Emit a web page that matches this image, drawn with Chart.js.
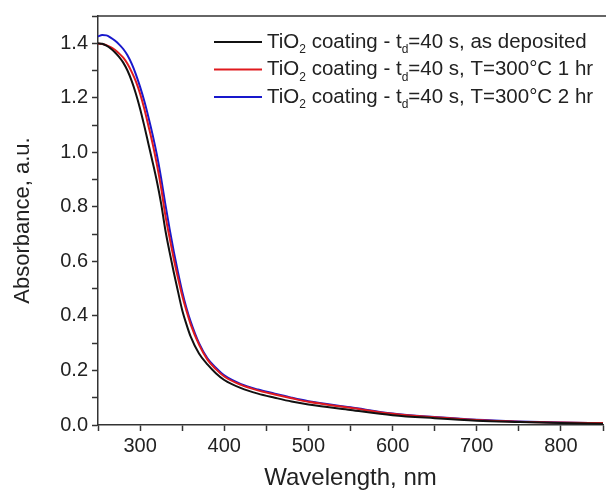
<!DOCTYPE html>
<html>
<head>
<meta charset="utf-8">
<script src="https://cdn.jsdelivr.net/npm/chart.js@4"></script>
<style>
  html, body { margin: 0; padding: 0; background: #fff; }
  #wrap { width: 606px; height: 497px; }
</style>
</head>
<body>
<div id="wrap"><canvas id="absorbance"></canvas></div>
<script>
// wavelength grid, nm
const wavelength = [250, 255, 260, 265, 270, 275, 280, 285, 290, 295, 300, 305, 310, 315, 320, 325, 330, 335, 340,
    345, 350, 355, 360, 370, 380, 390, 400, 420, 440, 460, 480, 500, 550, 600, 650, 700, 750, 800, 850];

// absorbance values
const asDeposited = [1.400, 1.398, 1.391, 1.381, 1.367, 1.350, 1.329, 1.300, 1.262, 1.215, 1.160, 1.097, 1.030,
    0.963, 0.893, 0.812, 0.715, 0.635, 0.560, 0.490, 0.422, 0.370, 0.325, 0.262, 0.222, 0.190, 0.165,
    0.135, 0.115, 0.100, 0.086, 0.075, 0.055, 0.036, 0.025, 0.016, 0.011, 0.007, 0.005];
const annealed1hr = [1.398, 1.397, 1.393, 1.386, 1.376, 1.363, 1.347, 1.325, 1.295, 1.260, 1.215, 1.160, 1.096,
    1.030, 0.955, 0.870, 0.770, 0.688, 0.610, 0.540, 0.475, 0.420, 0.370, 0.295, 0.240, 0.205, 0.178,
    0.147, 0.127, 0.112, 0.098, 0.085, 0.063, 0.041, 0.028, 0.018, 0.012, 0.009, 0.007];
const annealed2hr = [1.425, 1.430, 1.429, 1.421, 1.410, 1.396, 1.379, 1.356, 1.325, 1.286, 1.240, 1.188, 1.128,
    1.063, 0.990, 0.905, 0.810, 0.720, 0.637, 0.560, 0.490, 0.430, 0.380, 0.300, 0.245, 0.210, 0.182,
    0.150, 0.130, 0.115, 0.100, 0.087, 0.065, 0.042, 0.029, 0.019, 0.013, 0.009, 0.007];

// legend parts: [main, subscript, main, subscript, rest]
const seriesLabels = [
    ["TiO", "2", " coating - t", "d", "=40 s, as deposited"],
    ["TiO", "2", " coating - t", "d", "=40 s, T=300°C 1 hr"],
    ["TiO", "2", " coating - t", "d", "=40 s, T=300°C 2 hr"]
];
const seriesColors = ["#111111", "#e01a1e", "#1818cc"];

const xTicks = [300, 400, 500, 600, 700, 800];

function toPoints(ys) {
    const pts = [];
    for (let i = 0; i < wavelength.length; i++) {
        pts.push({ x: wavelength[i], y: ys[i] });
    }
    return pts;
}

const FONT = "'Liberation Sans', Arial, sans-serif";
const axisColor = "#333333";
const textColor = "#222222";

//Legend drawn inside the plot with real subscripts
const insideLegend = {
    id: "insideLegend",
    afterDraw(chart) {
        const ctx = chart.ctx;
        const area = chart.chartArea;
        // top frame line
        ctx.save();
        ctx.strokeStyle = axisColor;
        ctx.lineWidth = 1.5;
        ctx.beginPath();
        ctx.moveTo(area.left, area.top);
        ctx.lineTo(chart.width, area.top);
        ctx.stroke();

        const x0 = area.left + 116;
        const y0 = area.top + 26;
        const rowH = 27.5;
        ctx.textBaseline = "middle";
        for (let i = 0; i < seriesLabels.length; i++) {
            const y = y0 + i * rowH;
            ctx.strokeStyle = seriesColors[i];
            ctx.lineWidth = 2;
            ctx.beginPath();
            ctx.moveTo(x0, y);
            ctx.lineTo(x0 + 48, y);
            ctx.stroke();
            let x = x0 + 53;
            ctx.fillStyle = textColor;
            seriesLabels[i].forEach((part, k) => {
                const sub = k % 2 === 1;
                ctx.font = (sub ? "12px " : "20.5px ") + FONT;
                ctx.fillText(part, x, sub ? y + 8 : y);
                x += ctx.measureText(part).width;
            });
        }
        ctx.restore();
    }
};

new Chart("absorbance", {
    type : "line",
    data : {
        datasets : [
            { label : "as deposited", data : toPoints(asDeposited), borderColor : seriesColors[0] },
            { label : "T=300°C 1 hr", data : toPoints(annealed1hr), borderColor : seriesColors[1] },
            { label : "T=300°C 2 hr", data : toPoints(annealed2hr), borderColor : seriesColors[2] }
        ]
    },
    options : {
        responsive : true,
        maintainAspectRatio : false,
        animation : false,
        layout : { padding : { top : 13, right : 0, left : 6, bottom : 0 } },
        elements : {
            point : { radius : 0 },
            line : { borderWidth : 2, cubicInterpolationMode : "monotone", fill : false }
        },
        plugins : { legend : { display : false }, tooltip : { enabled : false } },
        scales : {
            x : {
                type : "linear",
                min : 250,
                max : 850,
                border : { color : axisColor, width : 1.5 },
                grid : { drawOnChartArea : false, drawTicks : true, tickLength : 6, color : axisColor, tickWidth : 1.5 },
                ticks : {
                    stepSize : 50,
                    autoSkip : false,
                    maxRotation : 0,
                    color : textColor,
                    font : { family : FONT, size : 20 },
                    padding : 3,
                    callback : (v) => xTicks.includes(v) ? String(v) : ""
                },
                title : { display : true, text : "Wavelength, nm", color : textColor,
                          font : { family : FONT, size : 24 }, padding : { top : 8 } },
                afterFit : (scale) => { scale.height = 72; }
            },
            y : {
                min : 0,
                max : 1.5,
                border : { color : axisColor, width : 1.5 },
                grid : { drawOnChartArea : false, drawTicks : true, tickLength : 6, color : axisColor, tickWidth : 1.5 },
                ticks : {
                    stepSize : 0.1,
                    autoSkip : false,
                    color : textColor,
                    font : { family : FONT, size : 20 },
                    padding : 4,
                    callback : (v) => (Math.round(v * 10) % 2 === 0 && v < 1.45) ? v.toFixed(1) : ""
                },
                title : { display : true, text : "Absorbance, a.u.", color : textColor,
                          font : { family : FONT, size : 22 }, padding : { bottom : 8 } },
                afterFit : (scale) => { scale.width = 92; }
            }
        }
    },
    plugins : [insideLegend]
});
</script>
</body>
</html>
